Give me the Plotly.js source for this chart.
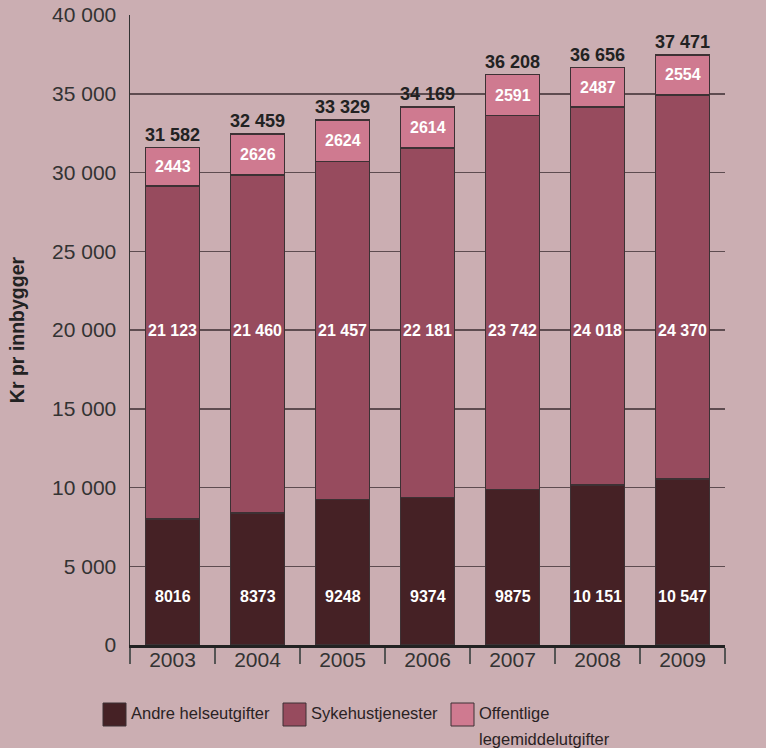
<!DOCTYPE html>
<html>
<head>
<meta charset="utf-8">
<script src="https://cdn.plot.ly/plotly-3.0.1.min.js"></script>
<style>
  html, body { margin: 0; padding: 0; background: #cbaeb2; }
  #chart { width: 766px; height: 748px; }
</style>
</head>
<body>
<div id="chart"></div>
<script>
const years = ['2003', '2004', '2005', '2006', '2007', '2008', '2009'];
const andre = [8016, 8373, 9248, 9374, 9875, 10151, 10547];
const sykehus = [21123, 21460, 21457, 22181, 23742, 24018, 24370];
const legemiddel = [2443, 2626, 2624, 2614, 2591, 2487, 2554];
const seriesNames = ['Andre helseutgifter', 'Sykehustjenester', 'Offentlige legemiddelutgifter'];
const legendLines = [['Andre helseutgifter'], ['Sykehustjenester'], ['Offentlige', 'legemiddelutgifter']];
const seriesColors = ['#452125', '#974b5e', '#cf7a90'];

const BG = '#cbaeb2';
const FONT = 'Liberation Sans, Arial, sans-serif';

function fmt(v) {
  const s = String(Math.round(v));
  if (s.length <= 4) return s;
  return s.replace(/\B(?=(\d{3})+(?!\d))/g, ' ');
}

const seriesData = [andre, sykehus, legemiddel];
const traces = seriesData.map((vals, i) => ({
  type: 'bar',
  name: seriesNames[i],
  x: years,
  y: vals,
  marker: { color: seriesColors[i], line: { color: '#3d3134', width: 1.5 } },
  width: 0.635,
  showlegend: false,
  hoverinfo: 'x+y+name'
}));

const inFont = { family: FONT, size: 16, color: '#ffffff', weight: 'bold' };
const annotations = [];
years.forEach((yr, i) => {
  const total = andre[i] + sykehus[i] + legemiddel[i];
  annotations.push({ x: i, y: 3100, text: fmt(andre[i]), showarrow: false, font: inFont });
  annotations.push({ x: i, y: 20000, text: fmt(sykehus[i]), showarrow: false, font: inFont });
  annotations.push({ x: i, y: andre[i] + sykehus[i] + legemiddel[i] / 2, text: fmt(legemiddel[i]), showarrow: false, font: inFont });
  annotations.push({ x: i, y: total, text: fmt(total), showarrow: false, yanchor: 'bottom', yshift: 1,
    font: { family: FONT, size: 18, color: '#222222', weight: 'bold' } });
});

// custom legend
const shapes = [];
const legendX = [103, 283, 451];
const lineY = [713, 739];
const W = 766, H = 748;
legendX.forEach((lx, i) => {
  shapes.push({ type: 'rect', xref: 'paper', yref: 'paper',
    x0: (lx - 130) / 595, x1: (lx + 23 - 130) / 595,
    y0: (645 - 726) / 630, y1: (645 - 703) / 630,
    fillcolor: seriesColors[i], line: { color: '#3d3134', width: 1 } });
  legendLines[i].forEach((t, j) => {
    annotations.push({ xref: 'paper', yref: 'paper',
      x: (lx + 26 - 130) / 595, y: (645 - lineY[j]) / 630,
      xanchor: 'left', yanchor: 'middle', align: 'left', showarrow: false,
      text: t,
      font: { family: FONT, size: 16.5, color: '#2a2224' } });
  });
});

const layout = {
  width: W, height: H,
  paper_bgcolor: BG, plot_bgcolor: BG,
  separators: ', ',
  barmode: 'stack',
  margin: { l: 130, r: 41, t: 15, b: 103 },
  font: { family: FONT, color: '#333333' },
  xaxis: {
    type: 'category',
    range: [-0.5, 6.5], autorange: false,
    showline: true, linecolor: '#222222', linewidth: 2.5,
    ticks: 'outside', tickson: 'boundaries', ticklen: 16, tickwidth: 1.5, tickcolor: '#555555',
    ticklabelstandoff: -6,
    tickfont: { family: FONT, size: 21, color: '#333333' },
    showgrid: false, zeroline: false,
    fixedrange: true
  },
  yaxis: {
    range: [0, 40000], autorange: false, dtick: 5000, tickformat: ',d',
    showline: true, linecolor: '#333333', linewidth: 1.5,
    showgrid: true, gridcolor: '#5e4c50', gridwidth: 1.5,
    zeroline: false,
    ticks: '', ticklabelstandoff: 8,
    tickfont: { family: FONT, size: 21, color: '#333333' },
    title: { text: 'Kr pr innbygger', standoff: 22,
      font: { family: FONT, size: 19.5, color: '#222222', weight: 'bold' } }
  },
  showlegend: false,
  annotations: annotations,
  shapes: shapes
};

Plotly.newPlot('chart', traces, layout, { displayModeBar: false, staticPlot: true });
</script>
</body>
</html>
